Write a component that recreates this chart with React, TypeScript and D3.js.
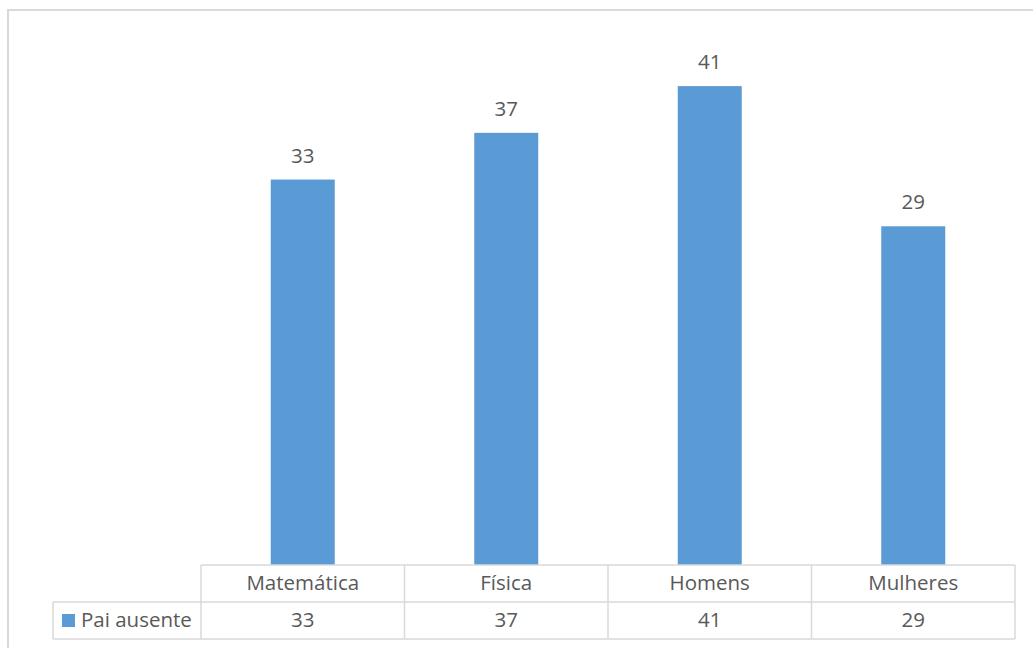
import React from "react";
import * as d3 from "d3";

const categories = ["Matemática", "Física", "Homens", "Mulheres"];
const seriesName = "Pai ausente";
const values = [33, 37, 41, 29];

const W = 1033, H = 648;
const FONT = "'Open Sans', 'Noto Sans', sans-serif";
const TXT = "#595959";
const GRID = "#D9D9D9";
const BAR = "#5B9BD5";
const FS = 20.5;

export default function App() {
  const tableLeft = 201, tableRight = 1015;
  const x = d3.scaleBand<string>().domain(categories).range([tableLeft, tableRight]).paddingInner(0).paddingOuter(0);
  const y = d3.scaleLinear().domain([0, 45]).range([565, 39.4]);
  const bw = 64;
  const rowTop = 565, rowMid = 602, rowBot = 639, legLeft = 53;
  return (
    <svg width={W} height={H} style={{ position: "absolute", left: 0, top: 0, background: "#fff" }} fontFamily={FONT}>
      <rect x={8} y={10} width={1040} height={660} fill="#fff" stroke={GRID} strokeWidth={2} />
      {categories.map((c, i) => {
        const cx = (x(c) as number) + x.bandwidth() / 2;
        return (
          <g key={c}>
            <rect x={cx - bw / 2} y={y(values[i])} width={bw} height={y(0) - y(values[i])} fill={BAR} />
            <text x={cx} y={y(values[i]) - 17} textAnchor="middle" fontSize={FS} fill={TXT}>{values[i]}</text>
            <text x={cx} y={590} textAnchor="middle" fontSize={FS} fill={TXT}>{c}</text>
            <text x={cx} y={627} textAnchor="middle" fontSize={FS} fill={TXT}>{values[i]}</text>
          </g>
        );
      })}
      <g stroke={GRID} strokeWidth={1.5} fill="none">
        <line x1={tableLeft} x2={tableRight} y1={rowTop} y2={rowTop} />
        <line x1={legLeft} x2={tableRight} y1={rowMid} y2={rowMid} />
        <line x1={legLeft} x2={tableRight} y1={rowBot} y2={rowBot} />
        <line x1={legLeft} x2={legLeft} y1={rowMid} y2={rowBot} />
        {[...categories.map((c) => x(c) as number), tableRight].map((v, i) => (
          <line key={i} x1={v} x2={v} y1={rowTop} y2={rowBot} />
        ))}
      </g>
      <rect x={62} y={614} width={13} height={13} fill={BAR} />
      <text x={81} y={627} fontSize={FS} fill={TXT}>{seriesName}</text>
    </svg>
  );
}
